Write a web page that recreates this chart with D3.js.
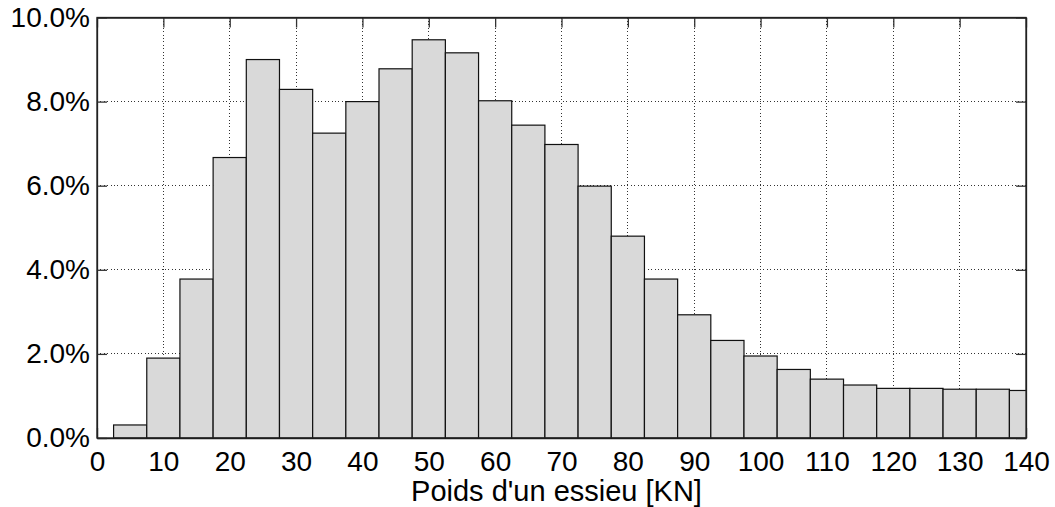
<!DOCTYPE html>
<html>
<head>
<meta charset="utf-8">
<script src="https://cdn.jsdelivr.net/npm/d3@7"></script>
<style>
  html, body { margin: 0; padding: 0; background: #fff; }
  svg { display: block; }
  text { font-family: "Liberation Sans", Arial, Helvetica, sans-serif; fill: #000; }
</style>
</head>
<body>
<svg id="chart" width="1055" height="507"></svg>
<script>
// Bin centers (kN) and bar heights (%)
const binCenters = [0, 5, 10, 15, 20, 25, 30, 35, 40, 45, 50, 55, 60, 65, 70,
                    75, 80, 85, 90, 95, 100, 105, 110, 115, 120, 125, 130, 135, 140];
const percentages = [0, 0.31, 1.90, 3.78, 6.67, 9.00, 8.29, 7.25, 8.00, 8.78, 9.47, 9.16, 8.02, 7.44, 6.98,
                     5.99, 4.80, 3.78, 2.93, 2.32, 1.95, 1.63, 1.40, 1.26, 1.18, 1.18, 1.16, 1.16, 1.13];
const binWidth = 5;
const xTicks = [0, 10, 20, 30, 40, 50, 60, 70, 80, 90, 100, 110, 120, 130, 140];
const yTicks = [0, 2, 4, 6, 8, 10];
const xLabel = "Poids d'un essieu [KN]";

const svg = d3.select("#chart");
const pLeft = 97, pRight = 1026, pTop = 17.5, pBottom = 438;

const x = d3.scaleLinear().domain([0, 140]).range([pLeft, pRight]);
const y = d3.scaleLinear().domain([0, 10]).range([pBottom, pTop]);

svg.append("defs").append("clipPath").attr("id", "plotclip")
  .append("rect").attr("x", pLeft).attr("y", pTop - 1)
  .attr("width", pRight - pLeft).attr("height", pBottom - pTop + 2);

// Grid (dotted)
const grid = svg.append("g").attr("stroke", "#333").attr("stroke-width", 1)
  .attr("stroke-dasharray", "1,2.4").attr("shape-rendering", "crispEdges");
xTicks.filter(t => t > 0 && t < 140).forEach(t => {
  grid.append("line").attr("x1", x(t)).attr("x2", x(t)).attr("y1", pTop).attr("y2", pBottom);
});
yTicks.filter(t => t > 0 && t < 10).forEach(t => {
  grid.append("line").attr("x1", pLeft).attr("x2", pRight).attr("y1", y(t)).attr("y2", y(t));
});

// Axes (box with inward ticks) — drawn beneath bars
const tickLen = 10;
const axX = d3.axisBottom(x).tickValues(xTicks).tickSizeInner(-tickLen).tickSizeOuter(0).tickPadding(13).tickFormat(d3.format("d"));
const axXt = d3.axisTop(x).tickValues(xTicks).tickSizeInner(-tickLen).tickSizeOuter(0).tickFormat("");
const axY = d3.axisLeft(y).tickValues(yTicks).tickSizeInner(-tickLen).tickSizeOuter(0).tickPadding(7).tickFormat(d => d.toFixed(1) + "%");
const axYr = d3.axisRight(y).tickValues(yTicks).tickSizeInner(-tickLen).tickSizeOuter(0).tickFormat("");

function style(g) {
  g.select(".domain").attr("stroke", "#222").attr("stroke-width", 1.3);
  g.selectAll(".tick line").attr("stroke", "#333").attr("stroke-width", 1.3);
  g.selectAll("text").attr("font-size", 28).attr("font-family", "Liberation Sans, Arial, sans-serif").attr("fill", "#000");
}
svg.append("g").attr("transform", `translate(0,${pBottom})`).call(axX).call(style);
svg.append("g").attr("transform", `translate(0,${pTop})`).call(axXt).call(style);
svg.append("g").attr("transform", `translate(${pLeft},0)`).call(axY).call(style);
svg.append("g").attr("transform", `translate(${pRight},0)`).call(axYr).call(style);

// Bars
const data = binCenters.map((c, i) => ({ c, v: percentages[i] }));
svg.append("g").attr("clip-path", "url(#plotclip)")
  .selectAll("rect").data(data).join("rect")
  .attr("x", d => x(d.c - binWidth / 2))
  .attr("width", d => x(d.c + binWidth / 2) - x(d.c - binWidth / 2))
  .attr("y", d => y(d.v))
  .attr("height", d => y(0) - y(d.v))
  .attr("fill", "#d9d9d9")
  .attr("stroke", "#111")
  .attr("stroke-width", 1.2);

// Box outline on top
svg.append("rect").attr("x", pLeft).attr("y", pTop)
  .attr("width", pRight - pLeft).attr("height", pBottom - pTop)
  .attr("fill", "none").attr("stroke", "#222").attr("stroke-width", 1.3);

// X label
svg.append("text").attr("x", (pLeft + pRight) / 2 - 5).attr("y", 501)
  .attr("text-anchor", "middle").attr("font-size", 29).text(xLabel);
</script>
</body>
</html>
